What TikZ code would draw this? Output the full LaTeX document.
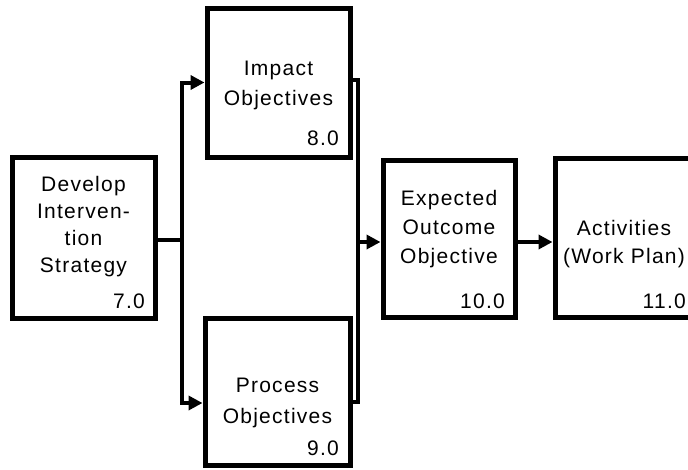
\documentclass[tikz,border=0pt]{standalone}
\usepackage{fontspec}
\setmainfont{Liberation Sans}[LetterSpace=6]
\usetikzlibrary{arrows.meta}
\begin{document}
\begin{tikzpicture}[x=1pt,y=-1pt,
  box/.style={draw, line width=5pt, inner sep=0pt},
  txt/.style={align=center, inner sep=0pt, anchor=base},
  num/.style={inner sep=0pt, anchor=base east, font=\fontsize{21}{24}\selectfont},
  wire/.style={line width=4pt, line join=miter},
  arr/.style={wire, -{Triangle[length=14pt,width=14pt]}}]
\useasboundingbox (0,0) rectangle (688,469);
\fill[white] (0,0) rectangle (688,469);

% process boxes
\node[box, minimum width=143pt, minimum height=161pt] (b7)  at (83.5,237.5) {};
\node[box, minimum width=143pt, minimum height=149pt] (b8)  at (278.5,82.5) {};
\node[box, minimum width=145pt, minimum height=147pt] (b9)  at (277.5,391.5) {};
\node[box, minimum width=132pt, minimum height=157pt] (b10) at (449,238.5) {};
\node[box, minimum width=138pt, minimum height=159pt] (b11) at (624,237.5) {};

% box captions (anchored on the baseline of their last line)
\node[txt, font=\fontsize{21}{27}\selectfont] (t7) at (83.5,272)
  {Develop\\Interven-\\tion\\Strategy};
\node[txt, font=\fontsize{21}{30}\selectfont] (t8) at (278.5,105)
  {Impact\\Objectives};
\node[txt, font=\fontsize{21}{31}\selectfont] (t9) at (277.5,423)
  {Process\\Objectives};
\node[txt, font=\fontsize{21}{29}\selectfont] (t10) at (449,263)
  {Expected\\Outcome\\Objective};
\node[txt, font=\fontsize{21}{28}\selectfont] (t11) at (624,263)
  {Activities\\(Work Plan)};

% step numbers
\node[num] (n7)  at (145,308) {7.0};
\node[num] (n8)  at (339,145) {8.0};
\node[num] (n9)  at (339,455) {9.0};
\node[num] (n10) at (505,308) {10.0};
\node[num] (n11) at (686,308) {11.0};

% connectors
\coordinate (jl) at (182,240);
\coordinate (jr) at (358,242);
\draw[wire] (b7.east |- jl) -- (jl);
\draw[arr] (jl) |- (b8.west);
\draw[arr] (jl) |- (b9.west |- 0,403);
\draw[wire] (b8.east |- 0,80) -| (jr);
\draw[wire] (b9.east |- 0,402) -| (jr);
\draw[arr] (jr) -- (b10.west |- jr);
\draw[arr] (b10.east |- 0,242) -- (b11.west |- 0,242);
\end{tikzpicture}
\end{document}
